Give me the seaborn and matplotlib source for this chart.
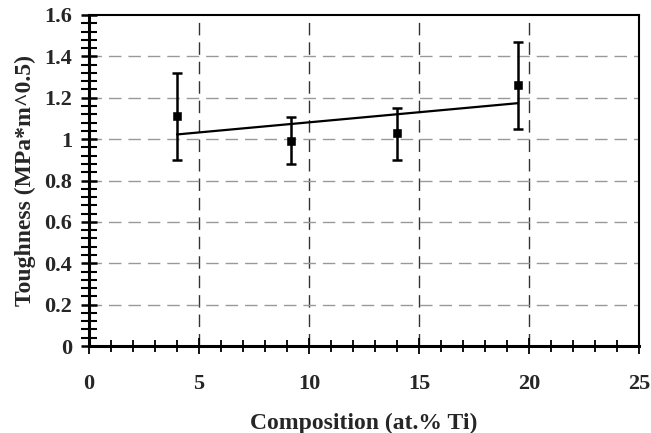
import numpy as np
import pandas as pd
import matplotlib
matplotlib.use("Agg")
import matplotlib.pyplot as plt
import seaborn as sns
from matplotlib.ticker import MultipleLocator, FuncFormatter

composition = [4.0, 9.2, 14.0, 19.5]
toughness = [1.11, 0.99, 1.03, 1.26]
err_low = [0.90, 0.88, 0.90, 1.05]
err_high = [1.32, 1.105, 1.15, 1.47]

sns.set_theme(style="white")
plt.rcParams['font.family'] = ['Liberation Serif', 'DejaVu Serif']
plt.rcParams['font.weight'] = 'bold'

df = pd.DataFrame({"comp": composition, "tough": toughness})

fig = plt.figure(figsize=(6.51, 4.33), dpi=100)
ax = fig.add_axes([89/651, 1-346/433, 550/651, 331/433])

# grid
ax.set_axisbelow(True)
for xv in [5, 10, 15, 20]:
    ax.axvline(xv, color="#333333", lw=1.0, ls=(0, (9, 5)), zorder=0)
for yv in np.arange(0.2, 1.6, 0.2):
    ax.axhline(yv, color="#999999", lw=1.0, ls=(0, (9, 5)), zorder=0)

yerr = np.array([np.array(toughness) - np.array(err_low),
                 np.array(err_high) - np.array(toughness)])
ax.errorbar(composition, toughness, yerr=yerr, fmt="none", ecolor="black",
            elinewidth=1.8, capsize=3.5, capthick=1.8, zorder=3)
sns.scatterplot(data=df, x="comp", y="tough", marker="s", s=28, color="black",
                edgecolor="black", ax=ax, zorder=4, legend=False)
sns.regplot(data=df, x="comp", y="tough", scatter=False, ci=None, truncate=True,
            line_kws={"color": "black", "lw": 1.6, "zorder": 3}, ax=ax)

ax.set_xlim(0, 25)
ax.set_ylim(0, 1.6)
ax.xaxis.set_major_locator(MultipleLocator(5))
ax.xaxis.set_minor_locator(MultipleLocator(1))
ax.yaxis.set_major_locator(MultipleLocator(0.2))
ax.yaxis.set_minor_locator(MultipleLocator(0.04))

def yfmt(v, pos):
    s = f"{v:.1f}"
    if s.endswith(".0"):
        s = s[:-2]
    return s
ax.yaxis.set_major_formatter(FuncFormatter(yfmt))

ax.tick_params(axis="both", which="both", bottom=True, left=True, top=False, right=False)
ax.tick_params(axis="x", which="major", direction="inout", length=11, width=1.3,
               pad=15, labelsize=16, color="black")
ax.tick_params(axis="x", which="minor", direction="inout", length=8.5, width=1.3, color="black")
ax.tick_params(axis="y", which="major", direction="inout", length=12, width=1.8,
               pad=6, labelsize=16, color="black")
ax.tick_params(axis="y", which="minor", direction="inout", length=11, width=1.5, color="black")
for lab in ax.get_xticklabels() + ax.get_yticklabels():
    lab.set_fontweight("bold")

for side in ["left", "bottom", "top", "right"]:
    ax.spines[side].set_visible(True)
    ax.spines[side].set_color("black")
ax.spines["left"].set_linewidth(2.2)
ax.spines["bottom"].set_linewidth(2.2)
ax.spines["top"].set_linewidth(1.5)
ax.spines["right"].set_linewidth(1.5)

ax.set_xlabel("Composition (at.% Ti)", fontsize=17, fontweight="bold", labelpad=13)
ax.set_ylabel("Toughness (MPa*m^0.5)", fontsize=17, fontweight="bold", labelpad=6)

fig.savefig("out.png", dpi=100)
